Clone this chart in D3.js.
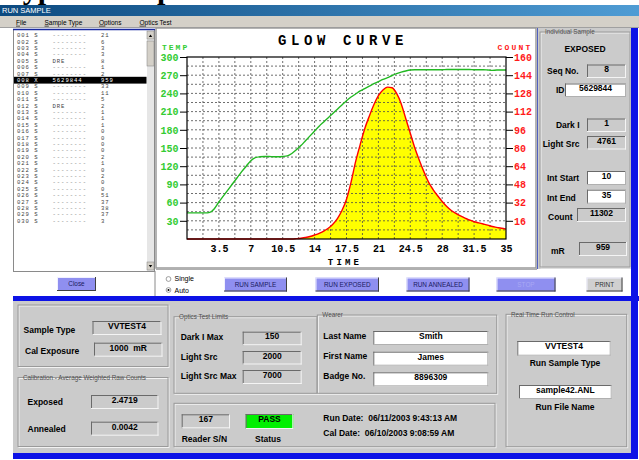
<!DOCTYPE html>
<html><head><meta charset="utf-8">
<script src="https://cdn.jsdelivr.net/npm/d3@7"></script>
<style>body{margin:0;background:#fff;overflow:hidden}svg{display:block}text{white-space:pre}</style>
</head><body>
<svg id="c" width="639" height="460"></svg>
<script>
// ---------- DATA ----------
const timeTicks = [3.5, 7, 10.5, 14, 17.5, 21, 24.5, 28, 31.5, 35];
const tempTicks = [30, 60, 90, 120, 150, 180, 210, 240, 270, 300];
const countTicks = [16, 32, 48, 64, 80, 96, 112, 128, 144, 160];
const time = [0,0.5,1,1.5,2,2.5,3,3.5,4,4.5,5,5.5,6,6.5,7,7.5,8,8.5,9,9.5,10,10.5,11,11.5,12,12.5,13,13.5,14,14.5,15,15.5,16,16.5,17,17.5,18,18.5,19,19.5,20,20.5,21,21.5,22,22.5,23,23.5,24,24.5,25,25.5,26,26.5,27,27.5,28,28.5,29,29.5,30,30.5,31,31.5,32,32.5,33,33.5,34,34.5,35];
const tempValues = [43,43,43,43,43,44,50,61,71,81,91,101,111,120,129,134,135.5,136,136,135.5,135.5,136,137,141,147,154,162,170,178,186,193,200,207,214,221,228,234,239,244,248,252,256,259.5,263,266,269.5,272.5,275,277,278.5,279,279,279,279,279,279,279,279.5,279.5,279.5,279.5,279.5,279.5,279,279,279,278.5,278,278.5,278.5,278.5];
const countValues = [0,0,0,0,0,0,0,0,0,0,0,0,0,0,0,0,0,0,0,0,0,0,0,0,0.3,0.7,1.3,2.2,3.5,5,7,9.5,13,18,25,35,50,68,83,97,108,118,126,131,133.5,133,128,119,106,93,80,69,59,50,43.5,38,33,28.5,25,22.5,20.3,18.3,16.7,15.2,14.2,13.2,12.2,11,10.2,9.4,8.7];

const listSeq = ["001","002","003","004","005","006","007","008","009","010","011","012","013","014","015","016","017","018","019","020","021","022","023","024","025","026","027","028","029","030"];
const listType = ["S","S","S","S","S","S","S","X","S","S","S","S","S","S","S","S","S","S","S","S","S","S","S","S","S","S","S","S","S","S"];
const listId = ["--------","--------","--------","--------","DRE","--------","--------","5629844","--------","--------","--------","DRE","--------","--------","--------","--------","--------","--------","--------","--------","--------","--------","--------","--------","--------","--------","--------","--------","--------","--------"];
const listCount = ["21","6","3","3","8","1","2","959","33","11","5","2","1","1","1","0","0","0","0","2","1","0","2","0","0","51","37","38","37","3"];
const selectedRow = 7;

// ---------- HELPERS ----------
const svg = d3.select("#c");
const SANS = "Liberation Sans, Arial, sans-serif";
const MONO = "Liberation Mono, Courier New, monospace";
const PANEL = "#cbcbcb";
function txt(x, y, s, o = {}) {
  return svg.append("text").attr("x", x).attr("y", y).attr("dy", "0.35em")
    .attr("font-family", o.ff || SANS).attr("font-size", o.fs || 8.5)
    .attr("font-weight", o.fw || "bold").attr("fill", o.fill || "#000")
    .attr("text-anchor", o.a || "start").text(s);
}
function line(x1, y1, x2, y2, c, w = 1) {
  svg.append("line").attr("x1", x1).attr("y1", y1).attr("x2", x2).attr("y2", y2)
    .attr("stroke", c).attr("stroke-width", w);
}
function sunken(x, y, w, h, val, fill, o = {}) {
  svg.append("rect").attr("x", x).attr("y", y).attr("width", w).attr("height", h).attr("fill", fill);
  line(x, y + 0.5, x + w, y + 0.5, "#6a6a6a");
  line(x + 0.5, y, x + 0.5, y + h, "#6a6a6a");
  line(x, y + h - 0.5, x + w, y + h - 0.5, fill === "#fff" ? "#b0b0b0" : "#f4f4f4");
  line(x + w - 0.5, y, x + w - 0.5, y + h, fill === "#fff" ? "#b0b0b0" : "#f4f4f4");
  if (val !== undefined) txt(x + w / 2, y + h / 2 - 2, val, Object.assign({ a: "middle" }, o));
}
function group(x, y, w, h, title) {
  svg.append("rect").attr("x", x + 1).attr("y", y + 1).attr("width", w).attr("height", h).attr("fill", "none").attr("stroke", "#f2f2f2");
  svg.append("rect").attr("x", x).attr("y", y).attr("width", w).attr("height", h).attr("fill", "none").attr("stroke", "#9a9a9a");
  if (title) {
    const t = txt(x + 5, y, title, { fs: 6.3, fw: "normal", fill: "#505050" });
    const bb = t.node().getBBox();
    svg.insert("rect", "text").attr("x", bb.x - 1).attr("y", y - 2).attr("width", bb.width + 2).attr("height", 4).attr("fill", PANEL);
    t.raise();
  }
}
function button(x, y, w, h, label, fill, tc) {
  svg.append("rect").attr("x", x).attr("y", y).attr("width", w).attr("height", h).attr("fill", fill);
  line(x, y + 0.5, x + w, y + 0.5, "#f0f0ff");
  line(x + 0.5, y, x + 0.5, y + h, "#f0f0ff");
  line(x, y + h - 0.5, x + w, y + h - 0.5, "#404040");
  line(x + w - 0.5, y, x + w - 0.5, y + h, "#404040");
  txt(x + w / 2, y + h / 2, label, { fs: 6.4, fw: "normal", fill: tc, a: "middle" });
}

// ---------- WINDOW CHROME ----------
txt(5, -1.5, "Typical Output", { ff: "Liberation Serif, Times New Roman, serif", fs: 30, fill: "#000" }).attr("dy", 0);
const defs = svg.append("defs");
const gr = defs.append("linearGradient").attr("id", "tb");
gr.append("stop").attr("offset", "0%").attr("stop-color", "#0c4a80");
gr.append("stop").attr("offset", "100%").attr("stop-color", "#4f9cd4");
svg.append("rect").attr("x", 0).attr("y", 5).attr("width", 639).attr("height", 11).attr("fill", "url(#tb)");
txt(2, 10.5, "RUN SAMPLE", { fs: 7.5, fw: "normal", fill: "#fff" });
svg.append("rect").attr("x", 0).attr("y", 16).attr("width", 639).attr("height", 12).attr("fill", "#d4d0c8");
[["File", 16], ["Sample Type", 44.5], ["Options", 99], ["Optics Test", 139.5]].forEach(([s, x]) => {
  const t = txt(x, 22.5, "", { fs: 6.5, fw: "normal" });
  t.append("tspan").attr("text-decoration", "underline").text(s[0]);
  t.append("tspan").text(s.slice(1));
});
line(0, 27.5, 639, 27.5, "#a0a0a0");

// ---------- LEFT LIST ----------
svg.append("rect").attr("x", 13.5).attr("y", 29.5).attr("width", 141).attr("height", 242).attr("fill", "#fff").attr("stroke", "#8a8a8a");
line(13, 29.5, 155, 29.5, "#1a2aa0", 1.5);
listSeq.forEach((s, i) => {
  const y = 35.3 + i * 6.4;
  const sel = i === selectedRow;
  if (sel) svg.append("rect").attr("x", 14).attr("y", y - 3.3).attr("width", 132.5).attr("height", 6.8).attr("fill", "#000");
  const c = sel ? "#fff" : "#444";
  const o = { ff: MONO, fs: 5.6, fw: "normal", fill: c };
  txt(17, y, s + " " + listType[i], o).attr("letter-spacing", 0.95);
  txt(52.5, y, listId[i], Object.assign({}, o, { fill: sel ? "#fff" : (listId[i][0] === "-" ? "#777" : "#444") })).attr("letter-spacing", 0.95);
  txt(101, y, listCount[i], o).attr("letter-spacing", 0.95);
});
// scrollbar
svg.append("rect").attr("x", 147).attr("y", 31).attr("width", 7).attr("height", 240).attr("fill", "#e6e6e6");
[[31, 8], [41, 25], [262, 8]].forEach(([y, h]) => {
  svg.append("rect").attr("x", 147).attr("y", y).attr("width", 7).attr("height", h).attr("fill", "#d4d0c8").attr("stroke", "#808080").attr("stroke-width", 0.5);
});
svg.append("path").attr("d", "M148.8,37 L152.2,37 L150.5,34.5Z").attr("fill", "#000");
svg.append("path").attr("d", "M148.8,265 L152.2,265 L150.5,267.5Z").attr("fill", "#000");
line(155, 271, 155, 296, "#8a8a8a");
button(57, 277, 39, 14, "Close", "#8f8ff0", "#1a1a60");

// ---------- CHART PANEL ----------
svg.append("rect").attr("x", 156).attr("y", 28).attr("width", 380).attr("height", 240).attr("fill", "#fff").attr("stroke", "#9a9a9a").attr("stroke-width", 1.5);
line(156, 269, 537, 269, "#b0b0b0", 2);

const L = 187, R = 506, T = 57, B = 239;
const x = d3.scaleLinear().domain([0, 35]).range([L, R]);
const yT = d3.scaleLinear().domain([0, 300]).range([B, T]);
const yC = d3.scaleLinear().domain([0, 160]).range([B, T]);
const plot = svg.append("g");

plot.append("path").datum(time.map((t, i) => [t, countValues[i]]))
  .attr("fill", "#ffff00")
  .attr("d", d3.area().x(d => x(d[0])).y0(yC(0)).y1(d => yC(d[1])).curve(d3.curveMonotoneX));

// grid
const vGrid = d3.range(1, 20).map(i => i * 1.75);
const hGrid = d3.range(1, 20).map(i => i * 15);
plot.selectAll(".vg").data(vGrid).join("line").attr("x1", d => x(d)).attr("x2", d => x(d)).attr("y1", T).attr("y2", B)
  .attr("stroke", "#4a4a4a").attr("stroke-width", 0.8).attr("stroke-dasharray", "2,2");
plot.selectAll(".hg").data(hGrid).join("line").attr("y1", d => yT(d)).attr("y2", d => yT(d)).attr("x1", L).attr("x2", R)
  .attr("stroke", "#4a4a4a").attr("stroke-width", 0.8).attr("stroke-dasharray", "2,2");

plot.append("path").datum(time.map((t, i) => [t, countValues[i]]))
  .attr("fill", "none").attr("stroke", "#ff0000").attr("stroke-width", 1.4)
  .attr("d", d3.line().x(d => x(d[0])).y(d => yC(d[1])).curve(d3.curveMonotoneX));
plot.append("path").datum(time.map((t, i) => [t, tempValues[i]]))
  .attr("fill", "none").attr("stroke", "#22b822").attr("stroke-width", 1.4)
  .attr("d", d3.line().x(d => x(d[0])).y(d => yT(d[1])).curve(d3.curveMonotoneX));

plot.append("rect").attr("x", L).attr("y", T).attr("width", R - L).attr("height", B - T).attr("fill", "none").attr("stroke", "#000").attr("stroke-width", 1.2);

function styleAxis(g, color) {
  g.select(".domain").remove();
  g.selectAll(".tick line").attr("stroke", "#000").attr("stroke-width", 1);
  g.selectAll(".tick text").attr("fill", color).attr("font-family", MONO).attr("font-size", 10).attr("font-weight", "bold");
}
const axL = plot.append("g").attr("transform", `translate(${L},0)`)
  .call(d3.axisLeft(yT).tickValues(tempTicks).tickSize(7).tickPadding(1.5).tickFormat(d3.format("d")));
styleAxis(axL, "#33cc33");
const axR = plot.append("g").attr("transform", `translate(${R},0)`)
  .call(d3.axisRight(yC).tickValues(countTicks).tickSize(7).tickPadding(1).tickFormat(d3.format("d")));
styleAxis(axR, "#ff1a1a");
const axB = plot.append("g").attr("transform", `translate(0,${B})`)
  .call(d3.axisBottom(x).tickValues(timeTicks).tickSize(0).tickPadding(6).tickFormat(d => String(d)));
styleAxis(axB, "#000");

txt(343, 40, "GLOW CURVE", { ff: MONO, fs: 14, fill: "#000", a: "middle" }).attr("letter-spacing", 4.6);
txt(162, 46.7, "TEMP", { ff: MONO, fs: 8, fill: "#33cc33" }).attr("letter-spacing", 2);
txt(497.5, 46.7, "COUNT", { ff: MONO, fs: 8, fill: "#ff1a1a" }).attr("letter-spacing", 2.2);
txt(345, 262, "TIME", { ff: MONO, fs: 9, fill: "#000", a: "middle" }).attr("letter-spacing", 3.2);

// ---------- RIGHT PANEL ----------
svg.append("rect").attr("x", 537).attr("y", 28).attr("width", 95).attr("height", 241).attr("fill", PANEL);
line(537.5, 28, 537.5, 269, "#5060c0");
group(540, 32, 90, 235, "Individual Sample");
txt(585, 49, "EXPOSED", { a: "middle" });
txt(547, 71.5, "Seq No.");
sunken(587, 64.5, 39, 13.5, "8", PANEL);
txt(556, 90, "ID");
sunken(565, 83.5, 61, 13.5, "5629844", "#fff");
txt(579.5, 125.5, "Dark I", { a: "end" });
sunken(587, 118.5, 39, 13.5, "1", PANEL);
txt(579.5, 144, "Light Src", { a: "end" });
sunken(587, 136, 39, 13.5, "4761", PANEL);
txt(547, 178.3, "Int Start");
sunken(587, 171, 39, 14, "10", "#fff");
txt(547, 197.7, "Int End");
sunken(587, 189.7, 39, 14, "35", "#fff");
txt(548, 216.7, "Count");
sunken(577, 208, 49, 14, "11302", PANEL);
txt(551, 250.7, "mR");
sunken(579, 242, 48, 14, "959", PANEL);

// ---------- CONTROL ROW ----------
svg.append("circle").attr("cx", 168.5).attr("cy", 279).attr("r", 2.4).attr("fill", "#fff").attr("stroke", "#777").attr("stroke-width", 0.7);
svg.append("circle").attr("cx", 168.5).attr("cy", 290).attr("r", 2.4).attr("fill", "#fff").attr("stroke", "#777").attr("stroke-width", 0.7);
svg.append("circle").attr("cx", 168.5).attr("cy", 290).attr("r", 1).attr("fill", "#000");
txt(174.5, 279, "Single", { fs: 7, fw: "normal" });
txt(174.5, 290.5, "Auto", { fs: 7, fw: "normal" });
button(224, 277.5, 63, 14, "RUN SAMPLE", "#8f8ff0", "#1a1a60");
button(315.5, 277.5, 63.5, 14, "RUN EXPOSED", "#8f8ff0", "#1a1a60");
button(406.5, 277.5, 63, 14, "RUN ANNEALED", "#8f8ff0", "#1a1a60");
button(496.5, 277.5, 59, 14, "STOP", "#8f8ff0", "#a8a8f4");
button(586.5, 277.5, 36, 14, "PRINT", "#d0d0d0", "#303030");

// ---------- BLUE FRAME ----------
svg.append("rect").attr("x", 13).attr("y", 296).attr("width", 626).attr("height", 5).attr("fill", "#0d12e6");
svg.append("rect").attr("x", 631).attr("y", 28).attr("width", 7).attr("height", 431).attr("fill", "#0d12e6");
svg.append("rect").attr("x", 13).attr("y", 301).attr("width", 618).attr("height", 152).attr("fill", PANEL);
svg.append("rect").attr("x", 13).attr("y", 453).attr("width", 625).attr("height", 6).attr("fill", "#0d12e6");

// ---------- BOTTOM PANEL ----------
group(18, 305, 150, 61.5);
txt(23.5, 330, "Sample Type");
sunken(92.5, 321, 69, 14, "VVTEST4", PANEL);
txt(25, 351, "Cal Exposure");
sunken(94, 342.7, 68.5, 14, "1000  mR", PANEL);

group(18, 377.5, 150, 69, "Calibration - Average Weighted Raw Counts");
txt(27.5, 401.7, "Exposed");
sunken(91, 395, 67.5, 14, "2.4719", PANEL);
txt(27.5, 429.3, "Annealed");
sunken(91, 421.7, 67.5, 14, "0.0042", PANEL);

group(174, 316.7, 143, 76.6, "Optics Test Limits");
txt(180.7, 336.7, "Dark I Max");
sunken(242.7, 331.7, 59, 13.5, "150", PANEL);
txt(180.7, 356.7, "Light Src");
sunken(242.7, 351, 59, 13.5, "2000", PANEL);
txt(180.7, 375.7, "Light Src Max");
sunken(242.7, 370, 59, 14, "7000", PANEL);

group(174, 403.3, 321, 43.4);
sunken(181.7, 414.3, 48.3, 14, "167", PANEL);
txt(181.7, 439.3, "Reader S/N");
sunken(245.7, 414, 47.6, 15, "PASS", "#00f000");
txt(255, 439.3, "Status");
txt(323.3, 418.3, "Run Date:  06/11/2003 9:43:13 AM");
txt(323.3, 433.3, "Cal Date:  06/10/2003 9:08:59 AM");

group(317.3, 315, 179.4, 78.3, "Wearer");
txt(323.3, 336, "Last Name");
sunken(373.3, 331, 115, 14, "Smith", "#fff");
txt(323.3, 356, "First Name");
sunken(373.3, 351.7, 115, 14, "James", "#fff");
txt(323.3, 376, "Badge No.");
sunken(373.3, 372.3, 115, 14, "8896309", "#fff");

group(506, 314.3, 120.7, 132.4, "Real Time Run Control");
sunken(517.3, 341, 93.4, 14.7, "VVTEST4", "#fff");
txt(565, 363.3, "Run Sample Type", { a: "middle" });
sunken(519, 385, 92.7, 14, "sample42.ANL", "#fff");
txt(565, 406.7, "Run File Name", { a: "middle" });
</script>
</body></html>
